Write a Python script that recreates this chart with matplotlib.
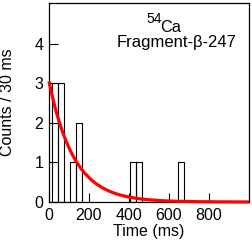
import numpy as np
import matplotlib
matplotlib.use("Agg")
import matplotlib.pyplot as plt

plt.rcParams['font.family'] = ['Liberation Sans', 'DejaVu Sans']

# Histogram data (30 ms bins)
bin_start = [15, 45, 105, 135, 405, 435, 645]
counts = [3, 3, 1, 2, 1, 1, 1]
bin_width = 30

# Exponential fit parameters
fit_amp = 3.05
fit_tau = 125.0

xticks = [0, 200, 400, 600, 800]
yticks = [0, 1, 2, 3, 4]

fig = plt.figure(figsize=(2.52, 2.46), dpi=100)
ax = fig.add_axes([49/252, 1-202/246, 200/252, 199/246])

ax.bar(bin_start, counts, width=bin_width, align='edge', fill=False,
       edgecolor='black', linewidth=0.8, zorder=2)

t = np.linspace(0, 1000, 500)
ax.plot(t, fit_amp*np.exp(-t/fit_tau), color='#ff0000', lw=2.3, zorder=5,
        clip_on=False, solid_capstyle='butt')

ax.set_xlim(0, 1000)
ax.set_ylim(0, 5.03)
ax.set_xticks(xticks)
ax.set_yticks(yticks)
ax.tick_params(direction='in', length=6.5, width=0.8, labelsize=11.5, pad=4,
               top=False, right=False)
for s in ax.spines.values():
    s.set_linewidth(0.9)

ax.set_xlabel('Time (ms)', fontsize=11.5, labelpad=1)
ax.set_ylabel('Counts / 30 ms', fontsize=11.5)
ax.yaxis.set_label_coords(-0.17, 0.5)

ax.text(0.489, 0.898, '54', transform=ax.transAxes, fontsize=10, va='baseline', ha='left')
ax.text(0.556, 0.856, 'Ca', transform=ax.transAxes, fontsize=11.7, va='baseline', ha='left')
ax.text(0.64, 0.78, 'Fragment-β-247', transform=ax.transAxes, fontsize=12, va='baseline', ha='center')

fig.savefig('out.png', dpi=100)
